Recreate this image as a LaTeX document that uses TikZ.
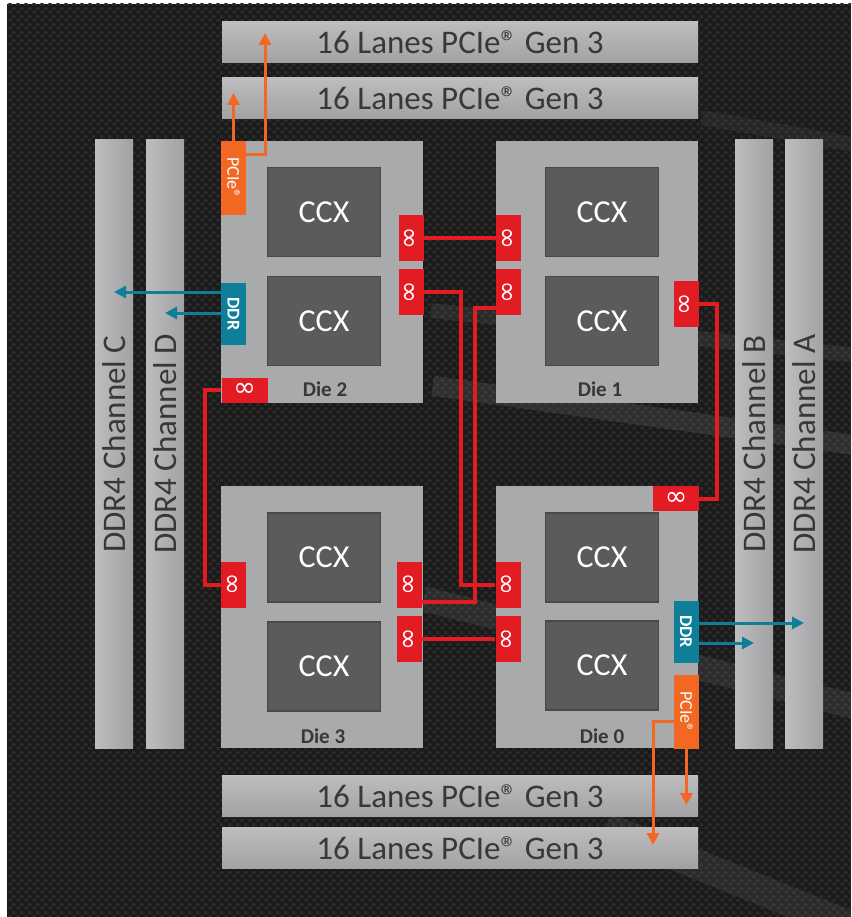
\documentclass[tikz,border=0pt]{standalone}
\usepackage{fontspec}
\setmainfont{Carlito}
\newfontfamily\symfont{DejaVu Sans}
\usetikzlibrary{arrows.meta,patterns}

\definecolor{bgdark}{HTML}{1B1B1B}
\definecolor{weave}{HTML}{2C2C2C}
\definecolor{streak}{HTML}{8A8A8A}
\definecolor{lanetop}{HTML}{BDBDBF}
\definecolor{lanebot}{HTML}{A2A2A4}
\definecolor{diegray}{HTML}{A9AAAC}
\definecolor{ccxgray}{HTML}{5A5B5D}
\definecolor{ccxedge}{HTML}{48494B}
\definecolor{labeldark}{HTML}{383838}
\definecolor{ifred}{HTML}{E31B23}
\definecolor{pcieorange}{HTML}{F26722}
\definecolor{ddrteal}{HTML}{0F7F99}

% carbon weave of the background
\pgfdeclarepatternformonly{carbon}{\pgfpointorigin}{\pgfqpoint{8pt}{8pt}}{\pgfqpoint{8pt}{8pt}}{
  \pgfpathrectangle{\pgfqpoint{0.5pt}{0.5pt}}{\pgfqpoint{3.5pt}{3pt}}
  \pgfpathrectangle{\pgfqpoint{4.5pt}{4.5pt}}{\pgfqpoint{3.5pt}{3pt}}
  \pgfusepath{fill}
}

\begin{document}
\begin{tikzpicture}[x=1pt, y=-1pt,
    lane/.style={rectangle, minimum width=476pt, minimum height=41pt, inner sep=0pt,
        top color=lanetop, bottom color=lanebot, text=labeldark, font=\fontsize{33}{36}\selectfont},
    channel/.style={rectangle, minimum width=38pt, minimum height=608pt, inner sep=0pt,
        left color=lanetop, right color=lanebot, text=labeldark, font=\fontsize{33}{36}\selectfont},
    die/.style={rectangle, fill=diegray, minimum width=202pt, minimum height=262pt, inner sep=0pt},
    ccx/.style={rectangle, fill=ccxgray, draw=ccxedge, line width=1.5pt, minimum width=113pt,
        minimum height=89pt, text=white, font=\fontsize{32}{36}\selectfont},
    dielabel/.style={text=labeldark, font=\bfseries\fontsize{21}{24}\selectfont},
    ifvert/.style={rectangle, fill=ifred, minimum width=25pt, minimum height=46pt, inner sep=0pt,
        text=white, font=\symfont\fontsize{27}{27}\selectfont},
    ifhorz/.style={ifvert, minimum width=46pt, minimum height=25pt},
    pciebox/.style={rectangle, fill=pcieorange, minimum width=25pt, minimum height=74pt, inner sep=0pt,
        text=white, font=\fontsize{18}{18}\selectfont},
    ddrbox/.style={pciebox, fill=ddrteal, minimum height=62pt, font=\bfseries\fontsize{18}{18}\selectfont},
    link/.style={ifred, line width=4pt},
    pcielink/.style={pcieorange, line width=3pt, -{Triangle[length=12pt,width=12pt]}},
    ddrlink/.style={ddrteal, line width=3pt, -{Triangle[length=12pt,width=12pt]}}
]
    \useasboundingbox (0,0) rectangle (851,917);
    \fill[white] (0,0) rectangle (851,917);
    \fill[bgdark] (7,4) rectangle (851,917);
    \fill[pattern=carbon, pattern color=weave] (7,4) rectangle (851,917);
    % soft streaks on the right
    \begin{scope}
        \clip (7,4) rectangle (851,917);
        \fill[streak, opacity=0.18, rotate around={-8:(640,420)}] (430,405) rectangle (900,425);
        \fill[streak, opacity=0.14, rotate around={-6:(640,330)}] (430,325) rectangle (900,340);
        \fill[streak, opacity=0.16, rotate around={-14:(640,640)}] (420,640) rectangle (900,665);
        \fill[streak, opacity=0.14, rotate around={-22:(700,860)}] (600,850) rectangle (900,880);
        \fill[streak, opacity=0.10, rotate around={-10:(700,130)}] (700,110) rectangle (900,125);
    \end{scope}

    % PCIe lanes
    \node[lane] (lane1) at (460,42.5) {16 Lanes PCIe® Gen 3};
    \node[lane] (lane2) at (460,98) {16 Lanes PCIe® Gen 3};
    \node[lane] (lane3) at (460,796) {16 Lanes PCIe® Gen 3};
    \node[lane] (lane4) at (460,848) {16 Lanes PCIe® Gen 3};

    % DDR4 channels
    \node[channel] (chC) at (114,444) {\rotatebox{90}{DDR4 Channel C}};
    \node[channel] (chD) at (165,444) {\rotatebox{90}{DDR4 Channel D}};
    \node[channel] (chB) at (754,444) {\rotatebox{90}{DDR4 Channel B}};
    \node[channel] (chA) at (804,444) {\rotatebox{90}{DDR4 Channel A}};

    % Dies
    \node[die] (die2) at (322,272) {};
    \node[die] (die1) at (597,272) {};
    \node[die] (die3) at (322,617) {};
    \node[die] (die0) at (597,617) {};

    % CCX
    \node[ccx] (ccx2a) at (324,212) {CCX};
    \node[ccx] (ccx2b) at (324,321) {CCX};
    \node[ccx] (ccx1a) at (602,212) {CCX};
    \node[ccx] (ccx1b) at (602,321) {CCX};
    \node[ccx] (ccx3a) at (324,557.5) {CCX};
    \node[ccx] (ccx3b) at (324,666.5) {CCX};
    \node[ccx] (ccx0a) at (602,557.5) {CCX};
    \node[ccx] (ccx0b) at (602,665.5) {CCX};

    \node[dielabel] (lbl2) at (325,389) {Die 2};
    \node[dielabel] (lbl1) at (600,389) {Die 1};
    \node[dielabel] (lbl3) at (323,736) {Die 3};
    \node[dielabel] (lbl0) at (602,736) {Die 0};

    % Infinity Fabric ports
    \node[ifvert] (if2a) at (411,238) {\rotatebox{90}{∞}};
    \node[ifvert] (if2b) at (411,292) {\rotatebox{90}{∞}};
    \node[ifhorz] (if2c) at (244.5,390) {∞};
    \node[ifvert] (if1a) at (508.5,238) {\rotatebox{90}{∞}};
    \node[ifvert] (if1b) at (508.5,292) {\rotatebox{90}{∞}};
    \node[ifvert] (if1c) at (686,304) {\rotatebox{90}{∞}};
    \node[ifvert] (if3a) at (409.5,584.5) {\rotatebox{90}{∞}};
    \node[ifvert] (if3b) at (409.5,639) {\rotatebox{90}{∞}};
    \node[ifvert] (if3c) at (233.5,584.5) {\rotatebox{90}{∞}};
    \node[ifvert] (if0a) at (508,584.5) {\rotatebox{90}{∞}};
    \node[ifvert] (if0b) at (508,639) {\rotatebox{90}{∞}};
    \node[ifhorz] (if0c) at (676,498.5) {∞};

    % PCIe and DDR controllers
    \node[pciebox] (pcie2) at (233.5,178) {\rotatebox{-90}{PCIe®}};
    \node[ddrbox] (ddr2) at (233.5,314) {\rotatebox{-90}{DDR}};
    \node[ddrbox] (ddr0) at (686,631.5) {\rotatebox{-90}{DDR}};
    \node[pciebox] (pcie0) at (686.5,712) {\rotatebox{-90}{PCIe®}};

    % arrow tips on the lanes
    \coordinate (up2a) at (233.5,93);
    \coordinate (up2b) at (265,33);
    \coordinate (dn0a) at (686.5,805);
    \coordinate (dn0b) at (653,845);

    % Infinity Fabric links
    \draw[link] (if2a.east) -- (if1a.west);
    \draw[link] (if2b.east) -- ++(37,0) |- (if0a.west);
    \draw[link] ([yshift=-16pt]if1b.west) -- ++(-21,0) |- ([yshift=-17.5pt]if3a.east);
    \draw[link] (if3b.east) -- (if0b.west);
    \draw[link] (if2c.west) -- ++(-16,0) |- (if3c.west);
    \draw[link] (if1c.east) -- ++(18,0) |- (if0c.east);

    % PCIe
    \draw[pcielink] (pcie2.north) -- (up2a);
    \draw[pcielink] ([yshift=23pt]pcie2.east) -| (up2b);
    \draw[pcielink] (pcie0.south) -- (dn0a);
    \draw[pcielink] ([yshift=-9pt]pcie0.west) -| (dn0b);

    % DDR
    \draw[ddrlink] ([yshift=22pt]ddr2.west) -- ([yshift=22pt]ddr2.west -| chC);
    \draw[ddrlink] ([yshift=1pt]ddr2.west) -- ([yshift=1pt]ddr2.west -| chD);
    \draw[ddrlink] ([yshift=8.5pt]ddr0.east) -- ([yshift=8.5pt]ddr0.east -| chA);
    \draw[ddrlink] ([yshift=-11.5pt]ddr0.east) -- ([yshift=-11.5pt]ddr0.east -| chB);

\end{tikzpicture}
\end{document}
